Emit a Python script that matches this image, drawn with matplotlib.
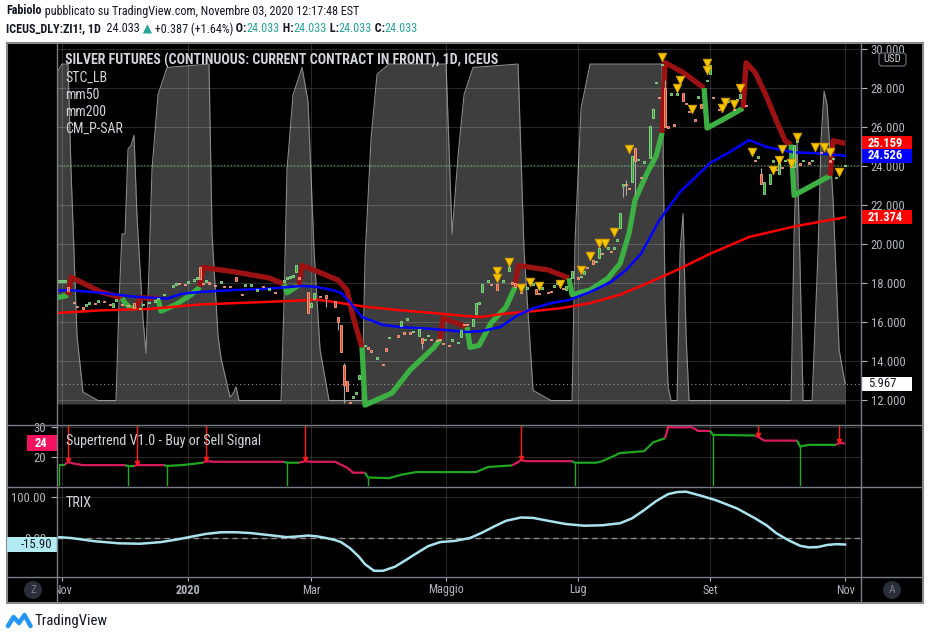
import numpy as np
import matplotlib
matplotlib.use("Agg")
import matplotlib.pyplot as plt
from matplotlib import font_manager
from matplotlib.ticker import StrMethodFormatter
from matplotlib.patches import Rectangle, Circle, FancyBboxPatch

# narrow sans if available (the original uses a condensed UI font)
names = {f.name for f in font_manager.fontManager.ttflist}
FONT = next((n for n in ["Liberation Sans Narrow", "Roboto Condensed",
                         "Open Sans Condensed", "Liberation Sans"] if n in names),
            "DejaVu Sans")
plt.rcParams["font.family"] = [FONT, "DejaVu Sans"]

# ---------------- data (x = bar index, 0 = 29 Oct 2019, one bar per business day)
month_idx = [3, 45, 86, 131, 175, 219, 264]
month_lbl = ["Nov", "2020", "Mar", "Maggio", "Lug", "Set", "Nov"]
price_ticks = [12, 14, 16, 18, 20, 22, 24, 26, 28, 30]

c_idx = [2, 3, 4, 5, 7, 8, 10, 11, 12, 14,
         15, 17, 19, 20, 21, 23, 25, 27, 29, 30,
         32, 34, 35, 37, 40, 41, 42, 44, 45, 47,
         48, 49, 50, 51, 52, 54, 56, 57, 59, 61,
         63, 64, 66, 68, 70, 72, 74, 77, 78, 79,
         80, 81, 82, 85, 86, 87, 89, 91, 94, 95,
         96, 97, 98, 99, 100, 101, 102, 104, 105, 106,
         108, 110, 111, 112, 115, 116, 117, 118, 119, 120,
         122, 123, 124, 125, 126, 128, 129, 130, 132, 133,
         135, 136, 137, 138, 140, 141, 142, 143, 145, 146,
         148, 150, 152, 153, 154, 156, 158, 160, 161, 162,
         163, 165, 166, 167, 168, 169, 170, 171, 173, 175,
         176, 177, 178, 180, 181, 182, 183, 185, 186, 187,
         188, 189, 190, 191, 192, 193, 194, 195, 196, 197,
         199, 200, 201, 202, 203, 204, 205, 206, 207, 208,
         210, 211, 212, 214, 215, 216, 218, 219, 220, 222,
         225, 227, 228, 229, 231, 234, 235, 236, 237, 239,
         240, 241, 242, 243, 244, 246, 247, 248, 249, 250,
         252, 253, 256, 257, 259, 260, 261, 264]
c_open = [18.1, 18.1, 18.1, 17.8, 17.02, 16.79, 16.72, 16.87, 16.97, 16.97,
          17.08, 17.07, 16.92, 16.77, 17.13, 16.92, 16.87, 17.0, 16.7, 16.9,
          17.0, 17.08, 17.2, 17.4, 17.85, 17.95, 17.97, 17.92, 18.05, 18.15,
          18.25, 18.8, 17.97, 18.1, 18.02, 17.87, 18.05, 17.82, 17.82, 18.3,
          17.42, 17.9, 17.9, 17.64, 17.82, 17.7, 17.52, 18.1, 18.25, 18.3,
          18.3, 18.56, 18.27, 17.54, 16.77, 17.2, 17.32, 17.4, 17.08, 16.26,
          15.85, 13.8, 13.0, 11.87, 12.15, 12.36, 13.1, 14.8, 14.67, 14.52,
          14.15, 13.82, 14.67, 15.2, 15.3, 15.8, 15.45, 16.15, 15.45, 15.5,
          15.28, 15.2, 15.1, 15.3, 15.12, 15.05, 15.12, 14.92, 14.82, 15.08,
          14.95, 15.23, 15.87, 15.87, 15.8, 16.4, 16.97, 17.54, 18.1, 17.92,
          17.95, 18.1, 18.6, 18.02, 18.0, 17.52, 17.74, 17.95, 17.7, 17.48,
          17.74, 17.52, 17.56, 17.85, 18.0, 18.0, 17.72, 17.64, 18.25, 18.27,
          18.35, 18.46, 18.82, 19.2, 19.1, 19.3, 19.52, 19.8, 19.62, 19.8,
          20.2, 20.8, 22.97, 23.07, 22.87, 23.2, 24.9, 24.35, 23.42, 24.2,
          24.4, 26.46, 28.3, 27.52, 29.2, 28.0, 26.02, 27.7, 26.12, 27.7,
          27.74, 27.22, 26.82, 26.38, 27.54, 27.2, 28.4, 28.7, 27.52, 26.92,
          27.3, 26.92, 27.4, 27.5, 27.12, 24.28, 24.46, 23.6, 22.56, 23.1,
          24.26, 23.82, 23.6, 23.92, 24.3, 24.1, 23.95, 25.28, 24.12, 24.3,
          24.17, 24.3, 24.72, 25.0, 24.27, 24.4, 23.4, 24.033]
c_close = [18.1, 18.1, 18.1, 17.6, 17.0, 16.77, 16.7, 16.87, 16.97, 16.95,
           17.08, 17.05, 16.9, 17.0, 17.13, 16.9, 16.85, 16.7, 16.7, 16.9,
           17.0, 17.08, 17.2, 17.4, 17.85, 17.95, 17.95, 17.9, 18.05, 18.15,
           18.25, 18.2, 17.95, 18.1, 18.0, 17.85, 18.05, 17.8, 17.8, 18.1,
           17.4, 17.9, 17.9, 17.64, 17.8, 17.7, 17.5, 18.1, 18.25, 18.3,
           18.4, 18.9, 18.25, 16.46, 17.0, 17.5, 17.3, 17.25, 16.77, 16.0,
           14.46, 12.77, 12.46, 11.85, 12.15, 12.36, 13.3, 14.8, 14.65, 14.5,
           14.15, 13.8, 14.5, 15.2, 15.28, 16.05, 15.43, 16.15, 15.43, 15.5,
           15.64, 14.9, 15.1, 15.3, 15.1, 15.03, 15.1, 14.9, 14.8, 15.08,
           14.95, 15.6, 15.85, 15.85, 16.15, 17.0, 16.97, 17.95, 18.1, 17.9,
           17.64, 18.1, 18.8, 18.0, 17.8, 17.5, 17.74, 17.95, 17.46, 17.46,
           17.74, 17.5, 17.54, 17.85, 18.0, 18.0, 17.7, 17.85, 18.6, 18.25,
           18.35, 18.6, 18.8, 18.97, 19.1, 19.8, 19.5, 19.8, 19.6, 19.8,
           20.2, 21.6, 23.1, 23.05, 22.85, 24.5, 24.26, 24.35, 23.4, 24.2,
           26.05, 26.9, 28.3, 27.5, 29.2, 26.0, 26.0, 27.7, 26.1, 27.7,
           27.33, 27.2, 26.8, 26.36, 27.54, 27.0, 28.4, 29.2, 27.5, 26.9,
           27.3, 26.9, 27.4, 27.7, 27.1, 24.26, 24.46, 23.1, 23.2, 23.6,
           24.26, 23.8, 24.2, 23.9, 24.3, 23.95, 25.1, 25.28, 24.1, 24.3,
           24.15, 24.3, 24.7, 25.0, 24.25, 24.4, 23.4, 24.033]
# visible wicks only
w_idx = [91, 95, 97, 123, 152, 190, 191, 194, 200, 204, 236]
w_hi = [17.4, 16.26, 13.9, 15.2, 19.05, 23.1, 23.3, 24.9, 27.0, 28.4, 23.9]
w_lo = [16.77, 15.6, 11.85, 14.6, 18.6, 22.4, 22.5, 22.5, 26.46, 26.0, 23.1]

# yellow sell triangles
tri_idx = [148, 148, 152, 156, 159, 162, 169, 176, 179, 182,
           184, 187, 192, 203, 208, 209, 213, 218, 218, 223,
           224, 227, 229, 233, 240, 242, 243, 246, 248, 254,
           257, 259, 262]
tri_val = [18.6, 18.25, 19.1, 17.74, 18.05, 17.85, 17.95, 18.67, 19.4, 20.05,
           20.05, 20.6, 24.87, 29.6, 28.0, 28.4, 26.9, 29.3, 28.9, 26.97,
           27.3, 27.2, 28.0, 24.7, 23.8, 24.3, 24.87, 24.15, 25.5, 24.97,
           24.97, 24.7, 23.7]

ma50_idx = [1, 5, 16, 27, 38, 43, 49, 60, 71, 83, 88, 93, 96, 99, 103, 110, 116, 127, 138,
            143, 149, 155, 160, 166, 172, 179, 186, 191, 196, 202, 209, 219, 225, 232, 238,
            247, 253, 264]
ma50_val = [17.6, 17.64, 17.5, 17.3, 17.2, 17.45, 17.54, 17.64, 17.7, 17.85, 17.8, 17.64,
            17.5, 17.0, 16.26, 15.85, 15.74, 15.64, 15.49, 15.54, 15.74, 16.36, 16.7, 16.97,
            17.13, 17.54, 18.05, 18.67, 19.5, 21.2, 22.67, 24.15, 24.67, 25.33, 24.97, 24.7,
            24.67, 24.526]
ma200_idx = [1, 16, 32, 49, 66, 82, 88, 93, 99, 105, 116, 127, 138, 143, 149, 160, 169, 179,
             189, 199, 208, 219, 232, 247, 264]
ma200_val = [16.46, 16.6, 16.67, 16.9, 17.0, 17.1, 17.15, 17.04, 16.9, 16.77, 16.6, 16.46,
             16.3, 16.26, 16.4, 16.56, 16.7, 16.97, 17.4, 18.05, 18.67, 19.5, 20.36, 20.9,
             21.374]

# parabolic SAR, dir 1 = below price (green), -1 = above price (red)
ps_idx = [1, 5, 6, 10, 16, 21, 23, 24, 26, 28, 29, 35, 36, 41, 46, 49, 50, 61, 72, 77,
          78, 81, 82, 83, 88, 95, 98, 100, 103, 104, 113, 119, 127, 129, 130, 138, 139, 142,
          146, 151, 154, 155, 165, 172, 173, 179, 185, 189, 192, 194, 198, 201, 203, 204,
          210, 217, 218, 223, 230, 231, 234, 238, 241, 244, 246, 247, 253, 259, 260, 264]
ps_val = [17.23, 17.38, 18.3, 18.0, 17.54, 17.33, 17.23, 16.97, 16.7, 16.75, 17.25, 17.2,
          16.56, 16.9, 17.4, 17.8, 18.8, 18.56, 18.26, 17.95, 17.5, 17.8, 17.9, 18.9, 18.6,
          18.15, 17.64, 16.26, 14.7, 11.74, 12.36, 13.54, 14.7, 15.1, 16.2, 15.74, 14.7,
          14.8, 15.95, 16.77, 17.8, 18.9, 18.67, 18.25, 17.4, 17.64, 18.25, 19.0, 20.56,
          22.26, 23.64, 24.5, 25.7, 29.3, 28.8, 28.0, 25.95, 26.36, 26.97, 29.3, 28.8, 27.5,
          26.36, 25.3, 25.1, 22.5, 23.0, 23.5, 25.3, 25.159]
ps_dir = [1, 1, -1, -1, -1, -1, -1, 1, 1, 1, -1, -1, 1, 1, 1, 1, -1, -1, -1, -1,
          1, 1, 1, -1, -1, -1, -1, -1, -1, 1, 1, 1, 1, 1, -1, -1, 1, 1, 1, 1,
          1, -1, -1, -1, 1, 1, 1, 1, 1, 1, 1, 1, 1, -1, -1, -1, 1, 1, 1, -1,
          -1, -1, -1, -1, -1, 1, 1, 1, -1, -1]

# STC_LB (0..100)
stc_idx = [1, 3, 5, 6, 8, 10, 15, 21, 22, 23, 24, 25, 26, 27, 28, 30, 31, 32, 33, 35,
           38, 52, 53, 55, 56, 59, 60, 61, 62, 76, 77, 78, 80, 83, 85, 87, 89, 92, 103, 104,
           106, 108, 112, 131, 133, 135, 137, 140, 155, 157, 160, 166, 173, 174, 176, 179,
           203, 204, 205, 206, 208, 209, 210, 211, 212, 246, 247, 248, 249, 250, 253, 255,
           256, 257, 258, 260, 262, 264]
stc_val = [97, 100, 100, 69, 20, 3.5, 1, 1, 30, 50, 50, 75, 76, 79, 55, 25, 15, 40, 69, 91,
           99, 100, 50, 20, 13.5, 2, 3, 5, 1, 1, 30, 69, 91, 99, 89, 45, 16, 1, 1, 43,
           78, 97, 100, 100, 50, 73, 91, 99, 100, 45, 4, 1, 1, 48, 87, 100,
           100, 30, 5, 1, 1, 45, 56, 20, 1, 1, 50, 77, 40, 1, 1, 45,
           78, 92, 88, 60, 16, 5.967]

# Supertrend V1.0
st_idx = [2, 4, 5, 7, 10, 24, 25, 27, 28, 37, 38, 44, 50, 51, 54, 77, 78, 82, 84, 86,
          94, 98, 100, 104, 105, 112, 116, 121, 141, 145, 153, 156, 158, 173, 174, 181, 183,
          186, 189, 197, 200, 204, 205, 213, 215, 219, 220, 234, 235, 237, 248, 249, 252,
          261, 262, 264]
st_val = [17.6, 17.6, 18.4, 17.9, 17.4, 17.4, 17.1, 17.1, 17.4, 17.4, 17.1, 17.5, 18.2,
          18.7, 18.5, 18.5, 18.2, 18.2, 18.7, 18.5, 18.5, 16.6, 14.9, 14.9, 13.3, 13.1, 14.2,
          15.1, 15.1, 16.8, 17.3, 19.0, 18.7, 18.7, 18.2, 18.2, 18.7, 20.0, 21.4, 22.0, 24.9,
          26.3, 29.9, 29.9, 28.7, 28.7, 27.4, 27.2, 26.8, 25.5, 25.5, 23.6, 24.1, 24.1, 24.7,
          24.6]
st_dir = [1, 1, -1, -1, -1, -1, 1, 1, -1, -1, 1, 1, 1, -1, -1, -1, 1, 1, -1, -1,
          -1, -1, -1, -1, 1, 1, 1, 1, 1, 1, 1, -1, -1, -1, 1, 1, 1, 1, 1, 1,
          1, 1, -1, -1, -1, -1, 1, 1, -1, -1, -1, 1, 1, 1, -1, -1]

# TRIX
tx_idx = [2, 6, 10, 14, 22, 29, 36, 41, 46, 51, 56, 61, 66, 72, 78, 82, 85, 88, 91, 94,
          96, 99, 102, 104, 107, 110, 114, 118, 121, 125, 129, 134, 139, 143, 147, 151, 156,
          160, 165, 171, 177, 183, 189, 193, 197, 201, 205, 208, 211, 216, 221, 228, 234,
          238, 241, 245, 249, 252, 255, 258, 261, 264]
tx_val = [2, 0, -4, -8, -13, -14, -10, -4, 3, 10, 14, 14, 12, 7, 2, 4, 6, 4, 0, -5,
          -10, -25, -46, -64, -80, -80, -70, -52, -38, -20, -10, -7, 0, 13, 28, 42, 50,
          49, 42, 34, 30, 31, 36, 48, 68, 90, 107, 112, 113, 103, 92, 72, 48,
          30, 12, -5, -19, -23, -22, -17, -15, -15.9]

# ---------------- layout (pixel boxes of the 930x640 screenshot)
W, H = 930, 640
XLIM = (1.33, 269.3)
TXT = "#d1d4dc"
AXC = "#b2b5be"
SEP = "#7b7e89"


def box(x0, y0, x1, y1):
    return [x0 / W, 1 - y1 / H, (x1 - x0) / W, (y1 - y0) / H]


fig = plt.figure(figsize=(W / 100, H / 100), dpi=100, facecolor="white")
renderer = fig.canvas.get_renderer()


def fit(s, target, weight="normal"):
    t = fig.text(0, 0, s, fontsize=10, fontweight=weight)
    w = t.get_window_extent(renderer).width
    t.remove()
    return 10 * target / w


s_title = fit("SILVER FUTURES (CONTINUOUS: CURRENT CONTRACT IN FRONT), 1D, ICEUS", 434, "bold")
s_leg = fit("CM_P-SAR", 58)
s_tick = fit("28.000", 34)
s_sub = fit("Supertrend V1.0 - Buy or Sell Signal", 196)
s_date = fit("Maggio", 36)
s_tv = fit("TradingView", 72)

bg = fig.add_axes([0, 0, 1, 1], zorder=0)
bg.set_xlim(0, W)
bg.set_ylim(H, 0)
bg.axis("off")
bg.add_patch(Rectangle((7, 43), 916, 560, fc="black", ec="none"))

ax_stc = fig.add_axes(box(57, 43, 861, 424), zorder=1)
ax = fig.add_axes(box(57, 43, 861, 424), zorder=2)
ax_st = fig.add_axes(box(57, 425, 861, 486), zorder=2)
ax_tx = fig.add_axes(box(57, 487, 861, 576), zorder=2)
ax_dt = fig.add_axes(box(57, 577, 861, 603), zorder=2)
top = fig.add_axes([0, 0, 1, 1], zorder=5)
top.set_xlim(0, W)
top.set_ylim(H, 0)
top.axis("off")

for a in (ax_stc, ax, ax_st, ax_tx, ax_dt):
    a.set_xlim(XLIM)
    a.set_facecolor("none")
    for sp in a.spines.values():
        sp.set_visible(False)
    a.set_xticks(month_idx)
    a.tick_params(axis="x", length=0, labelbottom=False)
for a in (ax, ax_st, ax_tx):
    a.grid(True, color="white", alpha=0.16, lw=0.8)
    a.set_axisbelow(True)
ax_stc.set_facecolor("black")
ax_stc.set_yticks([])
ax_dt.set_yticks([])

ax.set_ylim(10.77, 30.31)
ax_stc.set_ylim(-5.9, 106.2)
ax_st.set_ylim(10.5, 30.66)
ax_tx.set_ylim(-92.7, 124.4)
ax_dt.set_ylim(0, 1)

# STC area behind the price pane
ax_stc.fill_between(stc_idx, 0, stc_val, color="#3e3e3e", lw=0)
ax_stc.plot(stc_idx, stc_val, color="#8a8a8a", lw=0.8)
ax_stc.axhline(stc_val[-1], color="#9a9a9a", ls=(0, (1, 2.5)), lw=0.8)


def trend_line(a, xs, ys, dirs, c_up, c_dn, lw, z):
    xs, ys, dirs = np.asarray(xs), np.asarray(ys), np.asarray(dirs)
    starts = np.r_[0, np.flatnonzero(np.diff(dirs)) + 1]
    ends = np.r_[starts[1:], len(xs)]
    for s, e in zip(starts, ends):
        s0 = max(s - 1, 0)
        a.plot(xs[s0:e], ys[s0:e], color=c_up if dirs[s] > 0 else c_dn, lw=lw, zorder=z,
               solid_joinstyle="round", solid_capstyle="butt")


# price pane
trend_line(ax, ps_idx, ps_val, ps_dir, "#3cb043", "#9c1111", 3.8, 2.2)
ax.plot(ma200_idx, ma200_val, color="#ff0000", lw=1.8, zorder=2.5)
ax.plot(ma50_idx, ma50_val, color="#0000ff", lw=1.8, zorder=2.6)
ax.axhline(c_close[-1], color="#4caf50", ls=(0, (1, 2)), lw=0.8, zorder=2)

o = np.array(c_open)
c = np.array(c_close)
xi = np.array(c_idx)
up = c >= o
hgt = np.maximum(np.abs(c - o), 0.07)
bot = (o + c) / 2 - hgt / 2
ax.vlines(w_idx, w_lo, w_hi, color="#a8a8a8", lw=0.8, zorder=3.5)
ax.bar(xi[up], hgt[up], bottom=bot[up], width=0.85, color="#3a9d3a", edgecolor="#8fe38f",
       lw=0.6, zorder=4)
ax.bar(xi[~up], hgt[~up], bottom=bot[~up], width=0.85, color="#e04a2f", edgecolor="#ffa78a",
       lw=0.6, zorder=4)
ax.scatter(tri_idx, tri_val, marker="v", s=38, c="#f7c600", edgecolors="#d49b00", lw=0.6,
           zorder=6)

ax.yaxis.tick_right()
ax.set_yticks(price_ticks)
ax.yaxis.set_major_formatter(StrMethodFormatter("{x:.3f}"))
ax.tick_params(axis="y", length=4, width=0.8, color=AXC, labelcolor=AXC, labelsize=s_tick, pad=3)

# supertrend pane
trend_line(ax_st, st_idx, st_val, st_dir, "#1fa51f", "#d81b60", 1.6, 3)
y0, y1 = ax_st.get_ylim()
for k in range(len(st_idx)):
    if k == 0 or st_dir[k] != st_dir[k - 1]:
        if st_dir[k] > 0:
            ax_st.vlines(st_idx[k], y0, st_val[k], color="#22b022", lw=1, zorder=2.5)
        else:
            ax_st.vlines(st_idx[k], st_val[k], y1, color="#ff1a1a", lw=1, zorder=2.5)
            ax_st.plot(st_idx[k], st_val[k] + 0.6, marker="v", color="#ff1a1a", ms=3, zorder=4)
ax_st.set_yticks([20, 30])
ax_st.yaxis.set_major_formatter(StrMethodFormatter("{x:.0f}"))
ax_st.tick_params(axis="y", length=4, width=0.8, color=AXC, labelcolor=AXC, labelsize=s_tick, pad=4)

# TRIX pane
ax_tx.axhline(0, color="#8c8c8c", ls=(0, (4, 3)), lw=1)
ax_tx.plot(tx_idx, tx_val, color="#a9e4ee", lw=1.8, zorder=3)
ax_tx.set_yticks([0, 100])
ax_tx.yaxis.set_major_formatter(StrMethodFormatter("{x:.2f}"))
ax_tx.tick_params(axis="y", length=4, width=0.8, color=AXC, labelcolor=AXC, labelsize=s_tick, pad=4)

# date row
ax_dt.vlines(month_idx, 0.85, 1.0, color=AXC, lw=0.8)
for pos, lbl in zip(month_idx, month_lbl):
    ax_dt.text(pos, 0.5, lbl, ha="center", va="center", color=AXC, fontsize=s_date,
               fontweight="bold" if lbl == "2020" else "normal", clip_on=True)


# ---------------- overlay: frame, labels, value boxes
def ypix(a, v):
    return H - a.transData.transform((XLIM[0], v))[1]


top.hlines([424.5, 486.5, 576.5], 7, 923, color=SEP, lw=1)
top.vlines([57, 861], 43, 603, color=SEP, lw=1)
top.add_patch(Rectangle((7, 43), 916, 560, fill=False, ec="#8a8a8a", lw=1.5))

top.text(65, 60, "SILVER FUTURES (CONTINUOUS: CURRENT CONTRACT IN FRONT), 1D, ICEUS",
         color=TXT, fontsize=s_title, fontweight="bold", va="center")
for yy, lbl in zip([78, 95, 112, 129], ["STC_LB", "mm50", "mm200", "CM_P-SAR"]):
    top.text(65, yy, lbl, color=TXT, fontsize=s_leg, va="center")
top.text(66, 441, "Supertrend V1.0 - Buy or Sell Signal", color=TXT, fontsize=s_sub, va="center")
top.text(66, 503, "TRIX", color=TXT, fontsize=s_sub, va="center")

value_boxes = [(ax, ps_val[-1], "#ff0000", "white", "bold"),
               (ax, ma50_val[-1], "#0000ff", "white", "bold"),
               (ax, ma200_val[-1], "#ff0000", "white", "bold"),
               (ax_stc, stc_val[-1], "white", "#131722", "normal")]
for a, v, fc, tc, wt in value_boxes:
    yc = ypix(a, v)
    top.add_patch(Rectangle((861, yc - 7), 51, 14, fc=fc, ec="none"))
    top.text(868, yc, f"{v:.3f}", color=tc, fontsize=s_tick, fontweight=wt, va="center")

yc = ypix(ax_st, st_val[-1])
top.add_patch(Rectangle((27, yc - 8), 30, 16, fc="#f2115e", ec="none"))
top.text(41, yc, f"{int(st_val[-1])}", color="white", fontsize=s_tick, fontweight="bold",
         ha="center", va="center")
yc = ypix(ax_tx, tx_val[-1])
top.add_patch(Rectangle((7, yc - 7.5), 50, 15, fc="#b2ebf2", ec="none"))
top.text(52, yc, f"{tx_val[-1]:.2f}", color="#131722", fontsize=s_tick, ha="right", va="center")

top.add_patch(FancyBboxPatch((879, 53), 27, 13, boxstyle="round,pad=0,rounding_size=3",
                             fc="black", ec="#5d606b", lw=1))
top.text(892.5, 59.5, "USD", color=TXT, fontsize=s_tick * 0.85, ha="center", va="center")

for cx, lbl in [(33, "Z"), (892, "A")]:
    top.add_patch(Circle((cx, 590), 9, fc="#2a2e39", ec="none"))
    top.text(cx, 590, lbl, color="#787b86", fontsize=s_tick * 0.9, ha="center", va="center")


# header lines: pieces laid out one after another, scaled to the original width
def chain(x, y, parts, target):
    def run(size, keep):
        cx = x
        for s, wgt, col in parts:
            t = top.text(cx, y, s, fontsize=size, fontweight=wgt, color=col, va="center")
            cx += t.get_window_extent(renderer).width
            if not keep:
                t.remove()
        return cx - x
    run(10 * target / run(10, False), True)


INK = "#131722"
TEAL = "#26a69a"
chain(6, 11, [("Fabiolo", "bold", INK),
              (" pubblicato su TradingView.com, Novembre 03, 2020 12:17:48 EST", "normal", INK)],
      350)
chain(6, 29, [("ICEUS_DLY:ZI1!, 1D", "bold", INK), ("  24.033", "normal", INK),
              (" \u25B2", "normal", TEAL), (" +0.387 (+1.64%)", "normal", INK),
              (" O:", "bold", INK), ("24.033", "normal", TEAL),
              (" H:", "bold", INK), ("24.033", "normal", TEAL),
              (" L:", "bold", INK), ("24.033", "normal", TEAL),
              (" C:", "bold", INK), ("24.033", "normal", TEAL)], 410)

# TradingView logo
top.plot([8, 13.5, 19, 24.5, 30.5], [626, 617, 623, 615, 626], color="#2196f3", lw=3.2,
         solid_joinstyle="round", solid_capstyle="round")
top.text(34, 621, "TradingView", color=INK, fontsize=s_tv, va="center")

fig.savefig("out.png", dpi=100, facecolor="white")
